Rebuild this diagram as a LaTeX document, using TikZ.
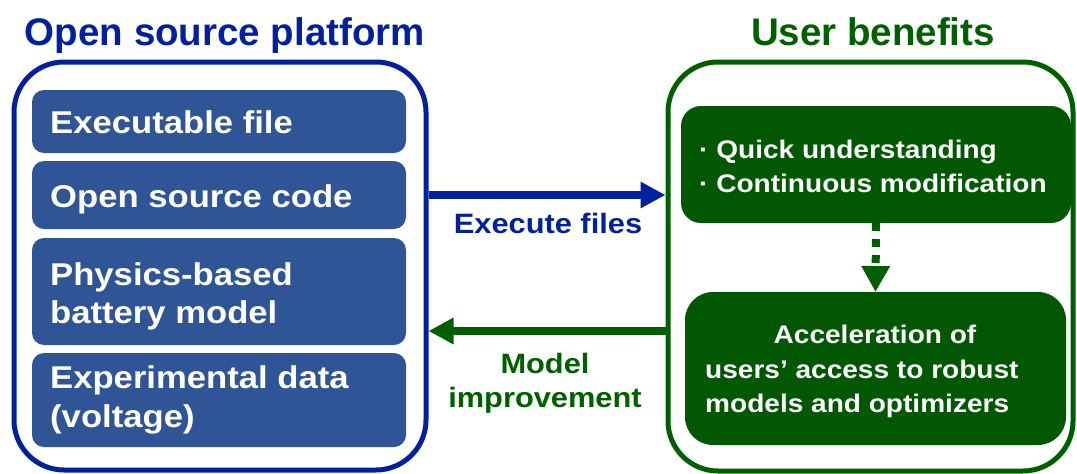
\documentclass[tikz,border=0pt]{standalone}
\usepackage{fontspec}
\setmainfont{Liberation Sans}[FakeStretch=1.1]
\newfontfamily\titlefont{Liberation Sans}
\usetikzlibrary{arrows.meta}
\definecolor{dblue}{RGB}{0,32,160}
\definecolor{bfill}{RGB}{47,85,151}
\definecolor{dgreen}{RGB}{0,96,0}
\definecolor{gfill}{RGB}{2,88,2}
\begin{document}
\begin{tikzpicture}[x=1pt,y=-1pt,
  outerbox/.style={draw, line width=5pt, rounded corners=50pt, inner sep=0pt},
  lbox/.style={fill=bfill, rounded corners=12pt, inner sep=0pt, outer sep=0pt, minimum width=374pt},
  gbox/.style={fill=gfill, inner sep=0pt, outer sep=0pt},
  ltext/.style={anchor=base west, inner sep=0pt, text=white, font=\fontsize{31.5}{38}\selectfont\bfseries},
  gtext/.style={inner sep=0pt, text=white, font=\fontsize{25.5}{34}\selectfont\bfseries},
  title/.style={anchor=base, inner sep=0pt, font=\titlefont\fontsize{38.5}{44}\selectfont\bfseries},
  albl/.style={anchor=base, inner sep=0pt, font=\fontsize{28}{34}\selectfont\bfseries},
  bigarrow/.style={line width=8pt, -{Triangle[length=25pt,width=25pt]}}
]
\useasboundingbox (0,0) rectangle (1077,474);

% titles
\node[title, text=dblue] (t1) at (225,45) {Open source platform};
\node[title, text=dgreen] (t2) at (873,45) {User benefits};

% outer frames
\node[outerbox, draw=dblue, minimum width=412pt, minimum height=408pt] (L) at (220,266) {};
\node[outerbox, draw=dgreen, minimum width=405pt, minimum height=409pt] (R) at (870.5,266.5) {};

% left inner boxes
\node[lbox, minimum height=63pt] (b1) at (219,121.5) {};
\node[lbox, minimum height=68pt] (b2) at (219,195) {};
\node[lbox, minimum height=107pt] (b3) at (219,291.5) {};
\node[lbox, minimum height=94pt] (b4) at (219,400) {};
\node[ltext] (s1) at (50,133) {Executable file};
\node[ltext] (s2) at (50,207) {Open source code};
\node[ltext] (s3a) at (50,285) {Physics-based};
\node[ltext] (s3b) at (50,323) {battery model};
\node[ltext] (s4a) at (50,388) {Experimental data};
\node[ltext] (s4b) at (50,427) {(voltage)};

% right inner boxes
\node[gbox, rounded corners=20pt, minimum width=390pt, minimum height=117pt] (g1) at (876,164.5) {};
\node[gbox, rounded corners=28pt, minimum width=381pt, minimum height=153pt] (g2) at (875.5,368.5) {};
\node[gtext, anchor=base west] (q1) at (699,158) {· Quick understanding};
\node[gtext, anchor=base west] (q2) at (699,192) {· Continuous modification};
\node[gtext, anchor=base] (a1) at (875,343) {Acceleration of};
\node[gtext, anchor=base west] (a2) at (705,378) {users’ access to robust};
\node[gtext, anchor=base west] (a3) at (705,412) {models and optimizers};

% connectors
\coordinate (ya) at (0,195);
\coordinate (yb) at (0,331);
\draw[bigarrow, dblue] (L.east |- ya) -- (R.west |- ya);
\draw[bigarrow, dgreen] (R.west |- yb) -- (L.east |- yb);
\draw[dgreen, line width=8pt, dash pattern=on 8pt off 8pt,
      -{Triangle[length=26pt,width=27pt]}] (g1.south) -- (g2.north);

% connector labels
\node[albl, text=dblue] (e1) at (548,233) {Execute files};
\node[albl, text=dgreen] (m1) at (545,373) {Model};
\node[albl, text=dgreen] (m2) at (545,407) {improvement};
\end{tikzpicture}
\end{document}
